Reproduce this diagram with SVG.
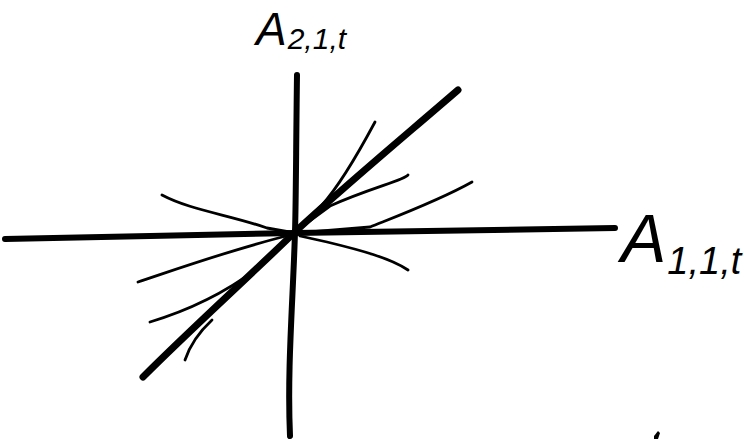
<svg xmlns="http://www.w3.org/2000/svg" width="744" height="439" viewBox="0 0 744 439">
<style>
.ax{fill:none;stroke:#000;stroke-linecap:round;stroke-linejoin:round}
.thick{stroke-width:6}
.thin{stroke-width:2.8}
.lbl{font-family:"Liberation Sans",Arial,sans-serif;font-style:italic;fill:#000}
</style>
<rect width="744" height="439" fill="#fff"/>
<g id="axes">
<path class="ax thick" d="M297,75 C296,150 296,200 295,232 C293,300 287,370 290,436"/>
<path class="ax thick" d="M5,239 L150,236 L295,233 L615,228"/>
<path class="ax" stroke-width="7" d="M458,90 C400,140 340,190 295,232 C240,285 190,330 143,377"/>
</g>
<g id="curves">
<path class="ax thin" d="M375,122 C360,150 340,185 322,205 L300,228"/>
<path class="ax thin" d="M408,175 C405,180 370,188 330,206 L300,228"/>
<path class="ax thin" d="M472,182 C440,200 400,215 370,227 L310,232"/>
<path class="ax thin" d="M162,195 C190,210 230,215 267,228 L295,233"/>
<path class="ax thin" d="M300,236 L327,242 C360,250 390,258 408,270"/>
<path class="ax thin" d="M138,282 C180,268 230,250 290,235"/>
<path class="ax thin" d="M150,322 C190,310 230,290 262,265"/>
<path class="ax thin" d="M185,360 C190,345 198,333 212,320"/>
</g>
<g id="label-y">
<text class="lbl" x="256" y="45"><tspan font-size="46">A</tspan><tspan font-size="30" dx="1" dy="4">2,1,t</tspan></text>
</g>
<g id="label-x">
<text class="lbl" x="621" y="262"><tspan font-size="68">A</tspan><tspan font-size="38" dx="1" dy="12">1,1,t</tspan></text>
</g>
<path d="M654,436 L658,431 L660,433 L658,439 L654,439 Z" fill="#000"/>
</svg>
